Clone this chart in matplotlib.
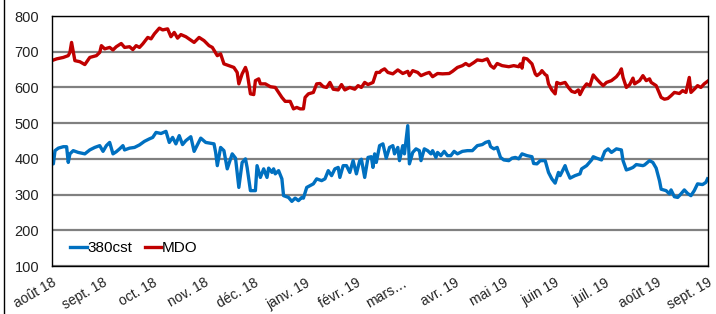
import matplotlib
matplotlib.use("Agg")
import matplotlib.pyplot as plt
from matplotlib.lines import Line2D
import pandas as pd

plt.rcParams['font.family'] = ['Liberation Sans', 'DejaVu Sans']

start = pd.Timestamp('2018-08-01')
end = pd.Timestamp('2019-09-01')

# day offsets from 2018-08-01 and prices
days_380 = [0, 1, 2, 4, 7, 9, 10, 11, 13, 16, 20, 23, 26, 29, 31, 33, 35, 37, 39, 41, 43, 44,
            47, 50, 53, 56, 59, 61, 63, 66, 69, 71, 73, 75, 77, 79, 81, 84, 86, 90, 93, 97,
            98, 99, 100, 102, 104, 106, 109, 111, 113, 115, 117, 118, 120, 123, 124, 126, 128,
            130, 131, 133, 134, 135, 137, 139, 140, 143, 145, 147, 149, 151, 152, 154, 156,
            158, 160, 163, 165, 167, 169, 171, 173, 174, 176, 178, 180, 182, 184, 186, 187,
            189, 191, 193, 194, 195, 196, 198, 200, 202, 204, 206, 207, 209, 210, 212, 213,
            215, 216, 218, 220, 222, 223, 225, 227, 229, 230, 232, 233, 235, 237, 239, 241,
            243, 245, 248, 251, 254, 257, 260, 262, 264, 265, 267, 269, 271, 273, 276, 278,
            280, 282, 284, 287, 290, 291, 293, 295, 296, 298, 300, 302, 304, 306, 307, 310,
            311, 313, 316, 319, 320, 323, 326, 327, 329, 332, 334, 336, 338, 341, 344, 345,
            347, 349, 351, 353, 357, 358, 361, 363, 365, 367, 368, 371, 373, 374, 376, 378,
            380, 382, 384, 386, 388, 390, 393, 395, 396]
vals_380 = [395, 386, 423, 430, 434, 434, 390, 414, 423, 418, 414, 425, 432, 437, 421, 437, 446, 414, 420, 428, 437, 425,
            430, 432, 439, 449, 456, 460, 474, 471, 477, 446, 460, 442, 465, 440, 451, 462, 421, 458, 446, 443,
            442, 418, 381, 432, 423, 372, 414, 402, 320, 390, 400, 376, 311, 311, 381, 348, 372,
            348, 374, 362, 372, 358, 367, 344, 297, 292, 281, 290, 283, 292, 290, 320, 325,
            330, 344, 339, 344, 367, 353, 372, 376, 348, 381, 381, 362, 395, 358, 395, 399,
            348, 404, 406, 376, 414, 390, 437, 442, 402, 432, 437, 414, 432, 395, 437, 414,
            493, 386, 418, 428, 423, 395, 428, 423, 414, 423, 404, 418, 409, 421, 409, 409,
            421, 414, 421, 423, 423, 437, 440, 446, 449, 434, 428, 432, 404, 397, 395, 402,
            404, 400, 414, 409, 406, 387, 386, 395, 395, 395, 362, 344, 332, 362, 353, 381,
            367, 346, 353, 358, 372, 381, 397, 406, 402, 397, 421, 428, 418, 428, 425, 395,
            369, 372, 376, 384, 381, 383, 395, 390, 374, 339, 315, 311, 302, 313, 294, 292,
            302, 313, 303, 297, 311, 330, 328, 334, 344]

days_mdo = [0, 3, 7, 10, 11, 12, 14, 17, 20, 23, 27, 29, 30, 32, 35, 37, 39, 42, 44, 47, 49,
            51, 53, 55, 58, 60, 62, 65, 67, 70, 72, 74, 76, 78, 81, 86, 89, 92, 95, 97,
            100, 102, 104, 107, 110, 112, 113, 115, 117, 118, 120, 122, 123, 125, 126, 129,
            132, 135, 137, 139, 141, 144, 146, 148, 150, 152, 153, 155, 158, 160, 162, 164,
            166, 168, 170, 173, 175, 177, 180, 183, 185, 187, 189, 191, 194, 196, 198,
            199, 201, 203, 206, 209, 212, 215, 216, 218, 221, 223, 226, 228, 230, 233, 236,
            240, 242, 245, 248, 250, 252, 255, 257, 260, 263, 265, 267, 269, 272, 276, 279,
            282, 283, 284, 285, 287, 290, 292, 293, 295, 296, 298, 299, 300, 302, 304, 305,
            307, 310, 312, 314, 316, 318, 319, 321, 323, 325, 327, 329, 331, 333, 335, 338,
            341, 343, 344, 345, 347, 349, 351, 352, 355, 357, 359, 361, 362, 365, 368, 370,
            372, 374, 376, 379, 381, 383, 385, 386, 388, 390, 392, 394, 396]
vals_mdo = [675, 680, 684, 689, 698, 726, 675, 672, 664, 684, 689, 698, 717, 708, 712, 705, 714, 723, 712, 714, 706,
            717, 712, 722, 740, 736, 750, 766, 761, 764, 742, 754, 738, 748, 742, 726, 740, 731, 717, 712,
            689, 694, 666, 661, 656, 642, 610, 638, 656, 642, 582, 580, 619, 624, 610, 610,
            602, 600, 586, 572, 561, 561, 540, 544, 540, 540, 572, 582, 586, 610, 611, 602,
            600, 614, 595, 593, 608, 593, 600, 595, 605, 600, 614, 608, 614, 642, 642,
            647, 652, 642, 638, 649, 639, 645, 633, 647, 642, 633, 639, 642, 630, 639, 638,
            639, 645, 656, 661, 667, 661, 670, 677, 675, 680, 661, 654, 667, 661, 658, 661,
            658, 666, 654, 682, 680, 666, 638, 633, 640, 647, 636, 633, 610, 593, 582, 614,
            610, 614, 600, 589, 586, 593, 580, 598, 610, 605, 635, 624, 614, 605, 614, 619,
            630, 642, 652, 628, 600, 608, 626, 610, 619, 633, 619, 624, 614, 605, 572, 567,
            569, 577, 586, 583, 591, 586, 628, 586, 595, 605, 600, 610, 617]

month_labels = ['août 18', 'sept. 18', 'oct. 18', 'nov. 18', 'déc. 18', 'janv. 19', 'févr. 19',
                'mars…', 'avr. 19', 'mai 19', 'juin 19', 'juil. 19', 'août 19', 'sept. 19']
series_names = ['380cst', 'MDO']
colors = ['#0070C0', '#C00000']

fig = plt.figure(figsize=(7.16, 3.14), dpi=100)
ax = fig.add_axes([51.7 / 716, 1 - 266 / 314, (707.5 - 51.7) / 716, 250 / 314])

ax.plot(days_380, vals_380, color=colors[0], lw=2.4, label=series_names[0],
        solid_joinstyle='round')
ax.plot(days_mdo, vals_mdo, color=colors[1], lw=2.4, label=series_names[1],
        solid_joinstyle='round')

total_days = (end - start).days
ax.set_xlim(0, total_days)
ax.set_ylim(100, 800)
ax.set_yticks(range(100, 801, 100))

month_starts = pd.date_range(start, end, freq='MS')
tick_pos = [(d - start).days for d in month_starts]
ax.set_xticks(tick_pos)
ax.set_xticklabels(month_labels, rotation=30, ha='right', rotation_mode='anchor',
                   fontsize=10, color='#222222')
ax.tick_params(axis='x', length=0, pad=7)
ax.tick_params(axis='y', length=0, pad=9, labelsize=10.5, labelcolor='#222222')

ax.grid(axis='y', color='#808080', lw=1.6)
ax.set_axisbelow(True)
for s in ax.spines.values():
    s.set_color('black')
    s.set_linewidth(1.0)

leg = ax.legend(loc='center left', bbox_to_anchor=((70 - 51.7) / 656, (266 - 248) / 250),
                frameon=False, ncol=2, fontsize=11, handlelength=1.1, handletextpad=0.05,
                columnspacing=0.8, borderpad=0, borderaxespad=0)

fig.add_artist(Line2D([3.5 / 716, 3.5 / 716], [0, 1], color='black', lw=1.0,
                      transform=fig.transFigure))

fig.savefig('out.png', dpi=100)
